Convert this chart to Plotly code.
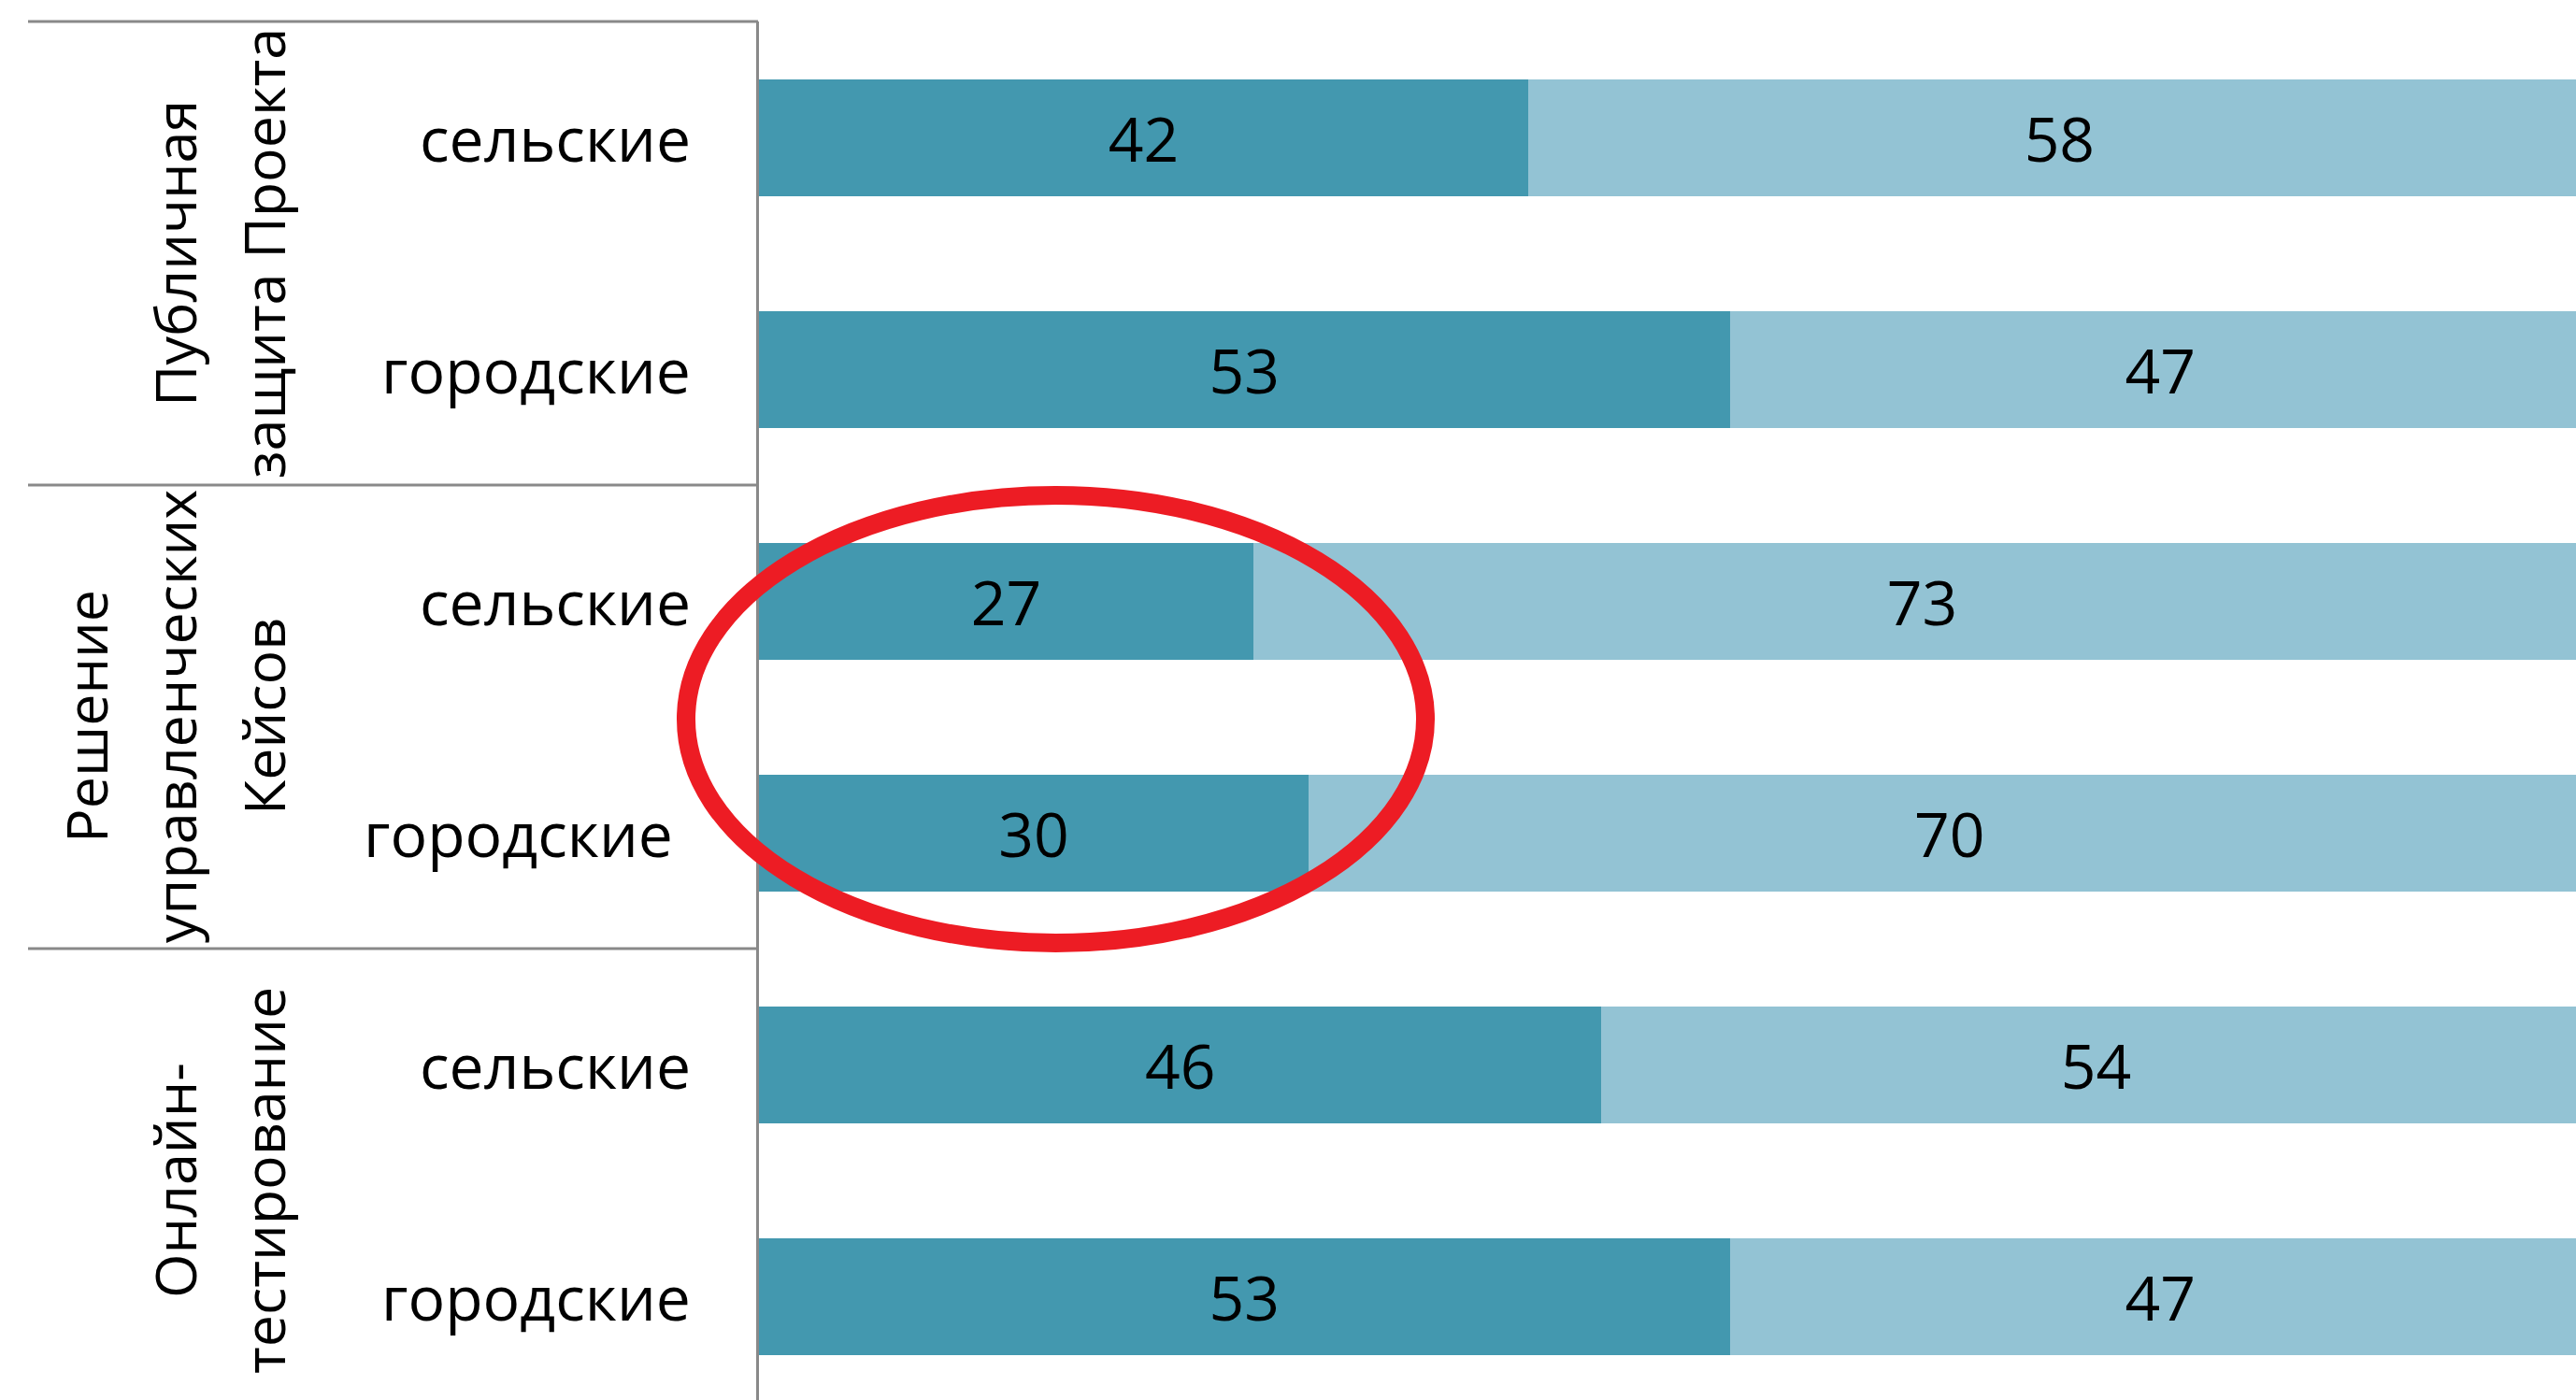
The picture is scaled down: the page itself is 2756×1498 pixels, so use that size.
import plotly.graph_objects as go

# ---- data ----
groups = ["Публичная\nзащита Проекта", "Решение\nуправленческих\nКейсов", "Онлайн-\nтестирование"]
subgroups = ["сельские", "городские"]
dark_vals = [42, 53, 27, 30, 46, 53]
light_vals = [58, 47, 73, 70, 54, 47]

DARK = "#4398AF"
LIGHT = "#93C3D4"
FONT = "Open Sans"
FS = 66
FS_GROUP = 61

W, H = 2756, 1498
L, T = 812, 23
PW, PH = W - L, H - T
SLOT = 248  # pixel height per category row (chart is cropped at bottom)

n_rows = len(dark_vals)
y_pos = list(range(n_rows))
row_labels = [subgroups[i % len(subgroups)] for i in range(n_rows)]
span = PH / SLOT
y_range = [-0.5 + span, -0.5]

fig = go.Figure()
fig.add_trace(go.Bar(
    x=dark_vals, y=y_pos, orientation="h", marker=dict(color=DARK, line=dict(width=0)),
    text=dark_vals, texttemplate="%{text}", textposition="inside", insidetextanchor="middle",
    textfont=dict(family=FONT, size=FS, color="#000000"), constraintext="none",
    hoverinfo="skip", showlegend=False))
fig.add_trace(go.Bar(
    x=light_vals, y=y_pos, orientation="h", marker=dict(color=LIGHT, line=dict(width=0)),
    text=light_vals, texttemplate="%{text}", textposition="inside", insidetextanchor="middle",
    textfont=dict(family=FONT, size=FS, color="#000000"), constraintext="none",
    hoverinfo="skip", showlegend=False))


def px_x(px):
    return (px - L) / PW


def px_y(py):
    return 1 - (py - T) / PH


def idx_to_paper(v):
    return 1 - (v + 0.5) / span


annotations = []
# subcategory labels
for i, lab in enumerate(row_labels):
    shift = -19 if i == 3 else 0
    annotations.append(dict(
        x=px_x(741), xref="paper", y=y_pos[i], yref="y", text=lab, showarrow=False,
        xanchor="right", yanchor="middle", xshift=shift,
        font=dict(family=FONT, size=FS, color="#000000")))

# group labels (rotated)
per = len(subgroups)
for g, name in enumerate(groups):
    lines = name.split("\n")
    n = len(lines)
    yc = (y_pos[g * per] + y_pos[g * per + per - 1]) / 2
    for i, ln in enumerate(lines):
        xpx = 281 - (n - 1 - i) * 95
        annotations.append(dict(
            x=px_x(xpx), xref="paper", y=yc, yref="y", text=ln, showarrow=False,
            textangle=-90, xanchor="center", yanchor="middle",
            font=dict(family=FONT, size=FS_GROUP, color="#000000")))

shapes = []
# group separator lines (top, and between groups)
for g in range(len(groups)):
    yb = idx_to_paper(g * per - 0.5)
    shapes.append(dict(type="line", xref="paper", yref="paper",
                       x0=px_x(30), x1=px_x(811), y0=yb, y1=yb,
                       line=dict(color="#898989", width=3)))
# red ellipse highlight
shapes.append(dict(type="circle", xref="paper", yref="paper",
                   x0=px_x(734), x1=px_x(1525), y0=px_y(1009), y1=px_y(530),
                   line=dict(color="#ED1C24", width=20), layer="above"))

fig.update_layout(
    barmode="stack", bargap=0.496,
    width=W, height=H, autosize=False,
    margin=dict(l=L, r=0, t=T, b=0, pad=0),
    paper_bgcolor="white", plot_bgcolor="white",
    xaxis=dict(visible=False, range=[0, 99.2], fixedrange=True),
    yaxis=dict(range=y_range, showticklabels=False, showgrid=False,
               zeroline=False, ticks="", showline=True, linecolor="#898989",
               linewidth=3, fixedrange=True),
    annotations=annotations, shapes=shapes,
    showlegend=False,
)

fig.write_html("out.html", config={"displayModeBar": False},
               post_script="document.body.style.margin='0';document.body.style.overflow='hidden';")
